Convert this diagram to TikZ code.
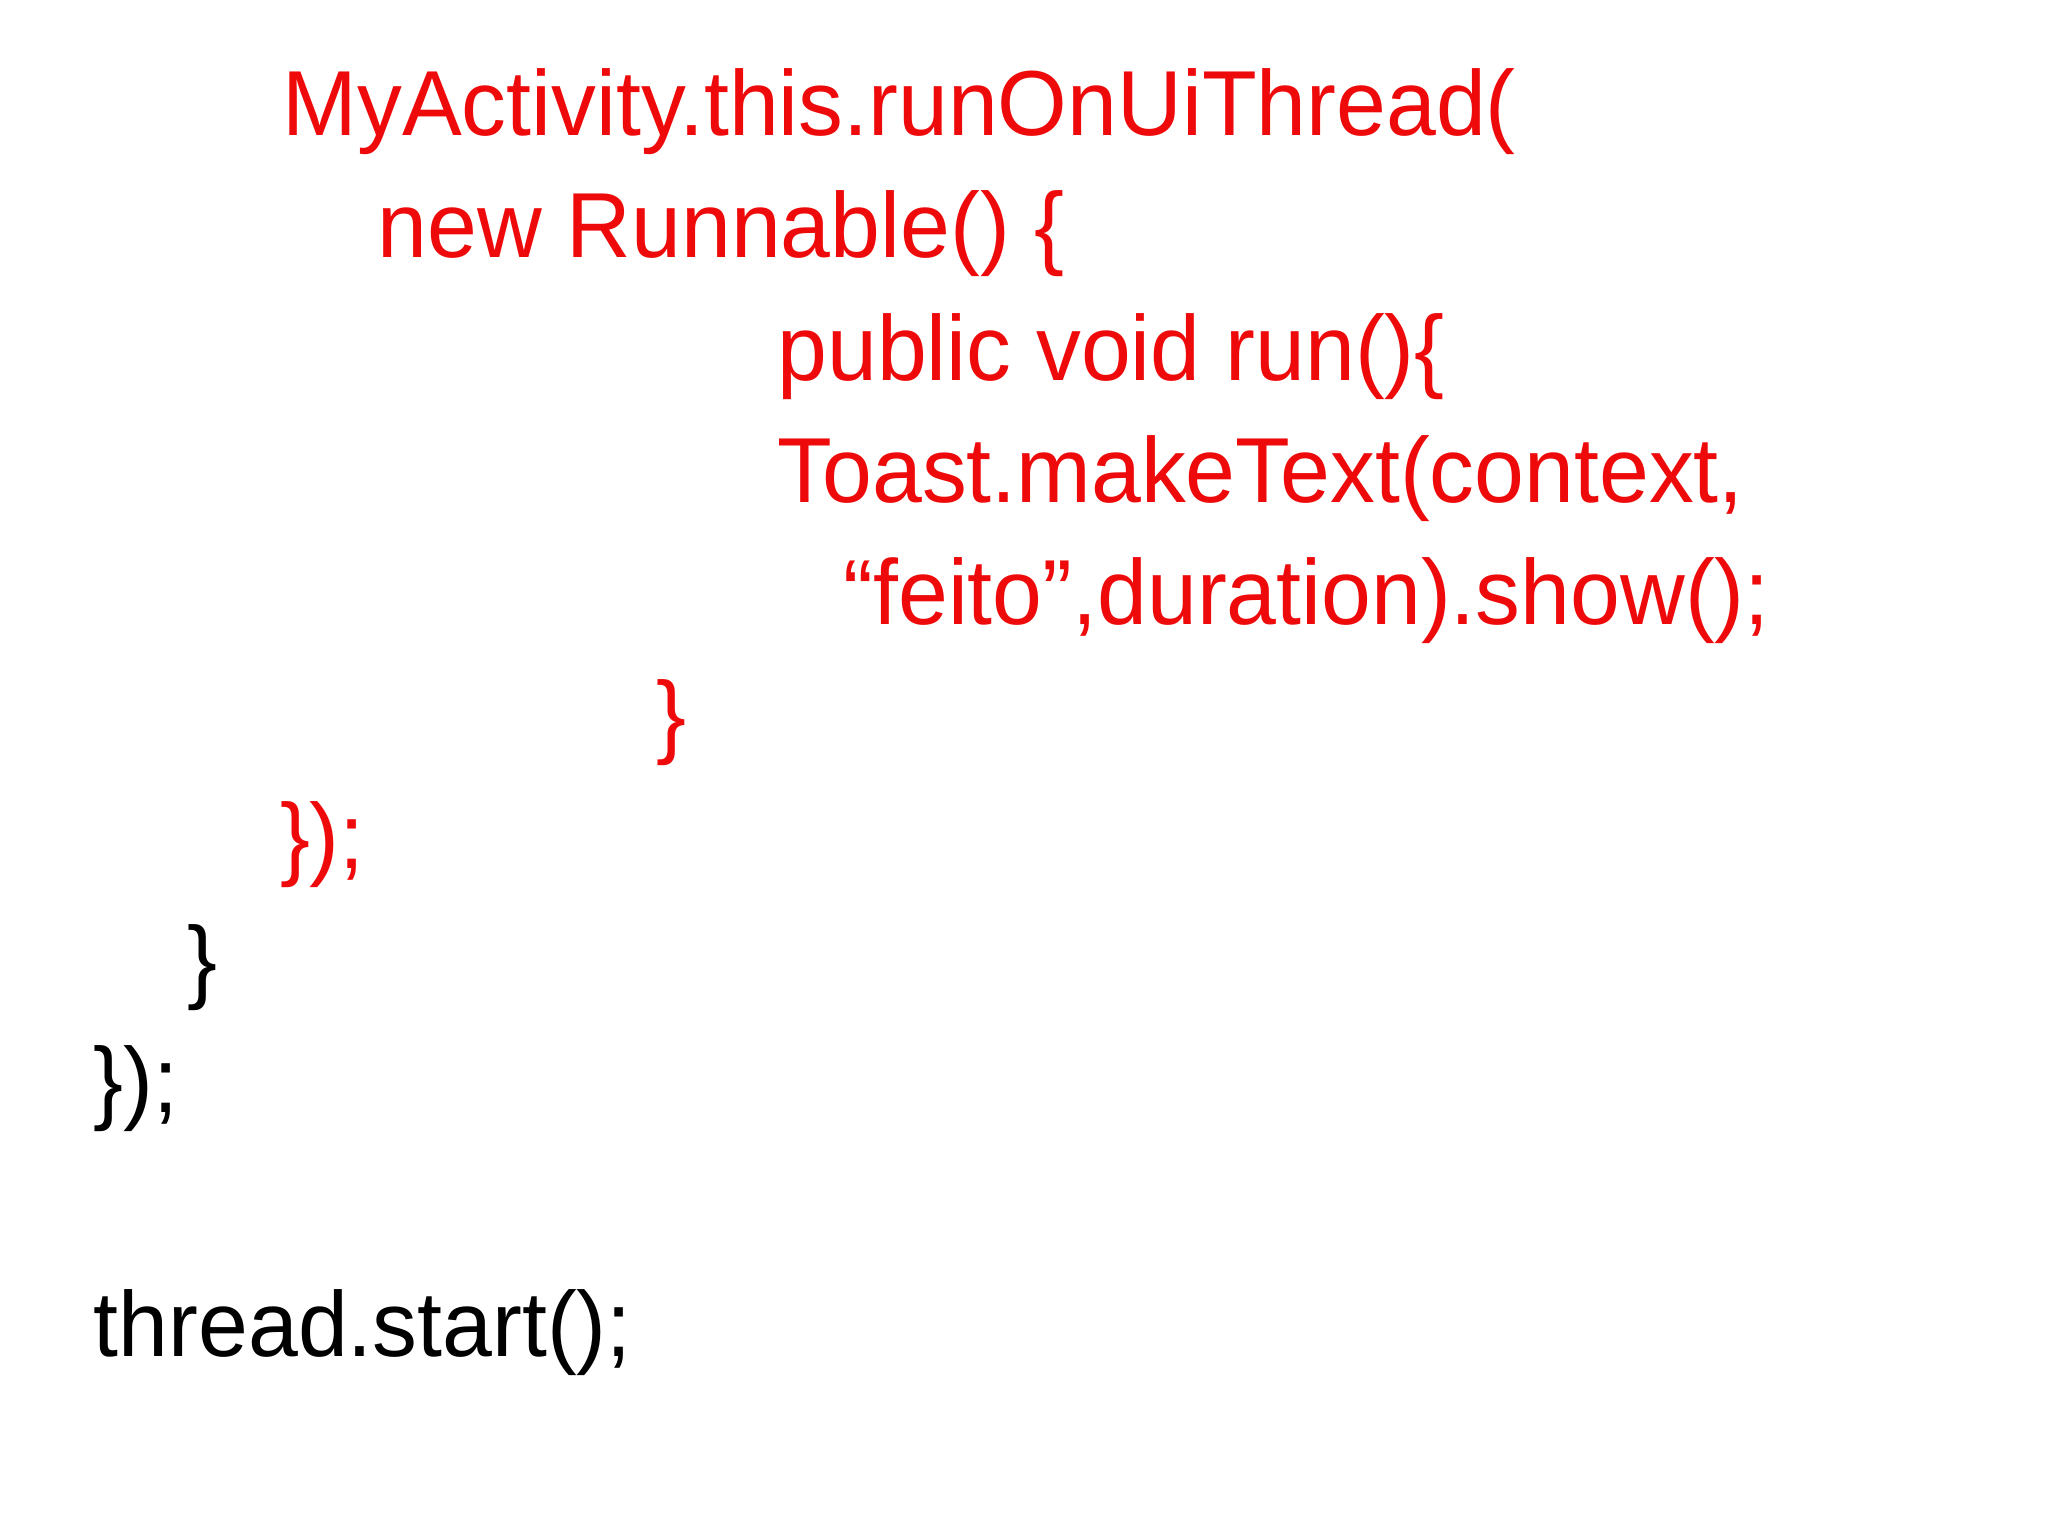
\documentclass[tikz,border=0pt]{standalone}
\usepackage{fontspec}
\setmainfont{Liberation Sans}
\definecolor{codered}{RGB}{238,10,10}
\begin{document}
\begin{tikzpicture}[x=1pt,y=-1pt,
  codeline/.style={anchor=base west,inner sep=0pt,font=\fontsize{70}{80}\selectfont,xscale=0.97},
  redline/.style={codeline,text=codered}]
\useasboundingbox[fill=white] (0,0) rectangle (1552,1163);
\node[redline] (l1) at (214,103) {MyActivity.this.runOnUiThread(};
\node[redline] (l2) at (286,195) {new Runnable() \{};
\node[redline] (l3) at (589,288) {public void run()\{};
\node[redline] (l4) at (589,381) {Toast.makeText(context,};
\node[redline] (l5) at (639,473) {“feito”,duration).show();};
\node[redline] (l6) at (497,566) {\}};
\node[redline] (l7) at (212,658) {\});};
\node[codeline] (l8) at (142,751) {\}};
\node[codeline] (l9) at (71,843) {\});};
\node[codeline] (l10) at (71,1028) {thread.start();};
\end{tikzpicture}
\end{document}
